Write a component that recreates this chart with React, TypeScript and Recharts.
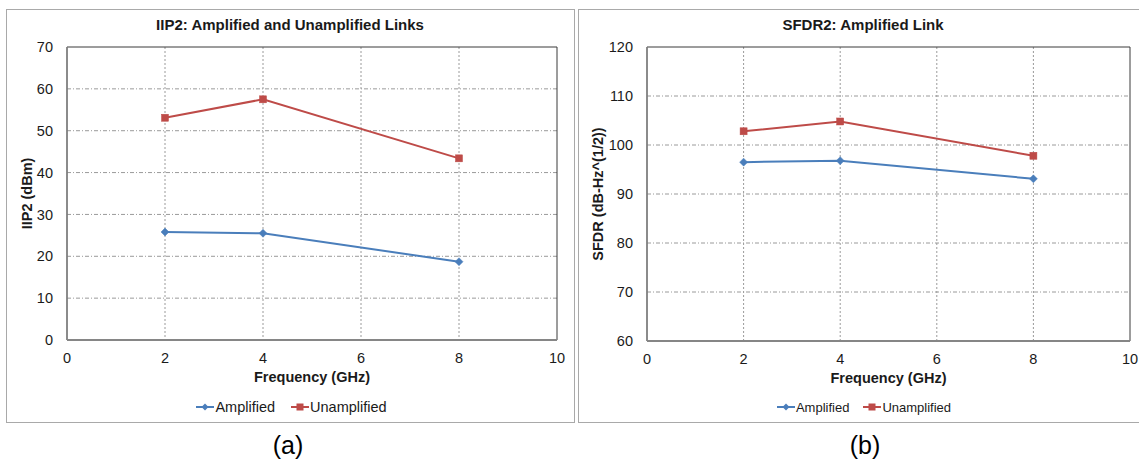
import React from 'react';
import { LineChart, Line, XAxis, YAxis, CartesianGrid, Legend, ReferenceArea } from 'recharts';

const frequencies = [2, 4, 8];
const iip2Amplified = [25.8, 25.5, 18.7];
const iip2Unamplified = [53.1, 57.5, 43.4];
const sfdrAmplified = [96.5, 96.8, 93.1];
const sfdrUnamplified = [102.8, 104.8, 97.8];
const xTicks = [0, 2, 4, 6, 8, 10];
const iip2Ticks = [0, 10, 20, 30, 40, 50, 60, 70];
const sfdrTicks = [60, 70, 80, 90, 100, 110, 120];

const BLUE = '#4A7EBB';
const RED = '#BE4B48';
const FONT = '"Liberation Sans", Arial, sans-serif';

const iip2Data = frequencies.map((f, i) => ({ f, amp: iip2Amplified[i], unamp: iip2Unamplified[i] }));
const sfdrData = frequencies.map((f, i) => ({ f, amp: sfdrAmplified[i], unamp: sfdrUnamplified[i] }));

const Diamond = (props: any) => {
  const { cx, cy } = props;
  if (cx == null || cy == null) return null;
  const r = 4;
  return <polygon points={`${cx},${cy - r} ${cx + r},${cy} ${cx},${cy + r} ${cx - r},${cy}`} fill={BLUE} stroke={BLUE} strokeWidth={0.5} />;
};
const Square = (props: any) => {
  const { cx, cy } = props;
  if (cx == null || cy == null) return null;
  const s = 7;
  return <rect x={cx - s / 2} y={cy - s / 2} width={s} height={s} fill={RED} stroke={RED} strokeWidth={0.5} />;
};

const makeLegend = (fontSize: number, gap: number) => (props: any) => {
  const { payload } = props;
  return (
    <div style={{ display: 'flex', justifyContent: 'center', alignItems: 'center', height: 20, fontFamily: FONT, fontSize, color: '#1a1a1a' }}>
      {(payload || []).map((p: any, i: number) => (
        <div key={i} style={{ display: 'flex', alignItems: 'center', marginLeft: i === 0 ? 0 : gap }}>
          <svg width={18} height={10} style={{ marginRight: 1 }}>
            <line x1={0} y1={5} x2={18} y2={5} stroke={p.color} strokeWidth={2} />
            {p.dataKey === 'amp' ? (
              <polygon points="9,1.5 12.5,5 9,8.5 5.5,5" fill={p.color} />
            ) : (
              <rect x={5.5} y={1.5} width={7} height={7} fill={p.color} />
            )}
          </svg>
          <span>{p.value}</span>
        </div>
      ))}
    </div>
  );
};

const YLabel = (dist: number, text: string) => (props: any) => {
  const vb = props.viewBox || {};
  const x = vb.x + vb.width - dist;
  const y = vb.y + vb.height / 2;
  return (
    <text x={x} y={y} transform={`rotate(-90, ${x}, ${y})`} textAnchor="middle" dominantBaseline="central"
      style={{ fontFamily: FONT, fontSize: 14.5, fontWeight: 'bold', fill: '#1a1a1a' }}>
      {text}
    </text>
  );
};

const tickStyle = { fontFamily: FONT, fontSize: 14.5, fill: '#1a1a1a' };

function Panel(props: {
  data: any[];
  width: number;
  height: number;
  margin: any;
  yTicks: number[];
  yDomain: [number, number];
  yLabel: string;
  yLabelDist: number;
  yAxisWidth: number;
  xAxisHeight: number;
  legendFont: number;
  legendGap: number;
  legendTop: number;
  legendLeft: number;
  legendWidth: number;
}) {
  const p = props;
  return (
    <LineChart width={p.width} height={p.height} data={p.data} margin={p.margin}>
      <CartesianGrid horizontal={true} vertical={false} stroke="#9a9a9a" strokeDasharray="4 2 1 2" horizontalValues={p.yTicks.slice(1, -1)} />
      <CartesianGrid horizontal={false} vertical={true} stroke="#9a9a9a" strokeDasharray="2 2" verticalValues={xTicks.slice(1, -1)} />
      <ReferenceArea x1={0} x2={10} y1={p.yDomain[0]} y2={p.yDomain[1]} fill="none" stroke="#3a3a3a" strokeWidth={1} ifOverflow="visible" />
      <XAxis
        dataKey="f"
        type="number"
        domain={[0, 10]}
        ticks={xTicks}
        interval={0}
        tickLine={false}
        tickSize={6}
        tickMargin={7}
        height={p.xAxisHeight}
        axisLine={{ stroke: '#868686', strokeWidth: 2 }}
        tick={tickStyle}
        label={{ value: 'Frequency (GHz)', position: 'insideTop', offset: 32, style: { fontFamily: FONT, fontSize: 14.5, fontWeight: 'bold', fill: '#1a1a1a' } }}
      />
      <YAxis
        type="number"
        domain={p.yDomain}
        ticks={p.yTicks}
        interval={0}
        tickLine={false}
        tickSize={6}
        tickMargin={8}
        width={p.yAxisWidth}
        axisLine={{ stroke: '#868686', strokeWidth: 1.5 }}
        tick={tickStyle}
        label={{ content: YLabel(p.yLabelDist, p.yLabel) } as any}
      />
      <Legend
        verticalAlign="bottom"
        content={makeLegend(p.legendFont, p.legendGap)}
        wrapperStyle={{ height: 20, top: p.legendTop, left: p.legendLeft, width: p.legendWidth, bottom: 'auto' }}
      />
      <Line type="linear" dataKey="amp" name="Amplified" stroke={BLUE} strokeWidth={2} dot={<Diamond />} activeDot={false} isAnimationActive={false} />
      <Line type="linear" dataKey="unamp" name="Unamplified" stroke={RED} strokeWidth={2} dot={<Square />} activeDot={false} isAnimationActive={false} />
    </LineChart>
  );
}

const titleStyle: React.CSSProperties = {
  position: 'absolute', fontFamily: FONT, fontSize: 15, fontWeight: 'bold', color: '#1a1a1a', textAlign: 'center', whiteSpace: 'nowrap',
};
const captionStyle: React.CSSProperties = {
  position: 'absolute', fontFamily: FONT, fontSize: 25, color: '#000', textAlign: 'center', top: 431, width: 100,
};

export default function App() {
  return (
    <div style={{ position: 'absolute', left: 0, top: 0, width: 1139, height: 463, background: '#fff', overflow: 'hidden' }}>
      <div style={{ position: 'absolute', left: 6, top: 9, width: 569, height: 414, boxSizing: 'border-box', border: '1px solid #a9a9a9' }} />
      <div style={{ position: 'absolute', left: 578, top: 9, width: 580, height: 414, boxSizing: 'border-box', border: '1px solid #a9a9a9' }} />

      <div style={{ position: 'absolute', left: 0, top: 0 }}>
        <Panel
          data={iip2Data}
          width={575}
          height={430}
          margin={{ top: 47, right: 18, left: 27, bottom: 10 }}
          yTicks={iip2Ticks}
          yDomain={[0, 70]}
          yLabel="IIP2 (dBm)"
          yLabelDist={40}
          yAxisWidth={40}
          xAxisHeight={60}
          legendFont={14.5}
          legendGap={16}
          legendTop={397}
          legendLeft={150}
          legendWidth={283}
        />
      </div>
      <div style={{ position: 'absolute', left: 572, top: 0 }}>
        <Panel
          data={sfdrData}
          width={567}
          height={430}
          margin={{ top: 47, right: 9, left: 20, bottom: 10 }}
          yTicks={sfdrTicks}
          yDomain={[60, 120]}
          yLabel="SFDR (dB-Hz^(1/2))"
          yLabelDist={49}
          yAxisWidth={55}
          xAxisHeight={59}
          legendFont={13}
          legendGap={14}
          legendTop={397}
          legendLeft={150}
          legendWidth={284}
        />
      </div>

      <div style={{ ...titleStyle, left: 140, width: 300, top: 16 }}>IIP2: Amplified and Unamplified Links</div>
      <div style={{ ...titleStyle, left: 713, width: 300, top: 16 }}>SFDR2: Amplified Link</div>

      <div style={{ ...captionStyle, left: 238 }}>(a)</div>
      <div style={{ ...captionStyle, left: 815 }}>(b)</div>
    </div>
  );
}
